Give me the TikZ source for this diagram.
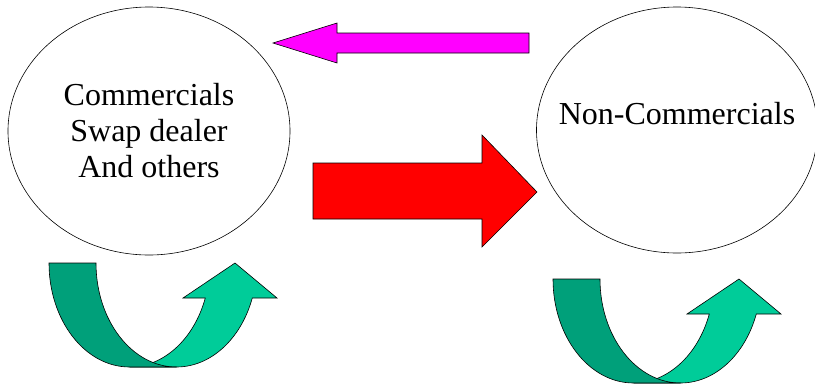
\documentclass[tikz,border=0pt]{standalone}
\usepackage{fontspec}
\setmainfont{Liberation Serif}
\usetikzlibrary{shapes.geometric}
\definecolor{pinkarrow}{RGB}{255,0,255}
\definecolor{redarrow}{RGB}{255,0,0}
\definecolor{backband}{RGB}{0,160,122}
\definecolor{frontband}{RGB}{0,204,153}

\begin{document}
\begin{tikzpicture}[x=1pt,y=1pt,line width=0.6pt,
	party/.style={draw,ellipse,inner sep=0pt,align=center,font=\fontsize{32}{36}\selectfont},
	block/.style={draw=black,line join=miter}]
	\useasboundingbox (0,0) rectangle (815,-384);
	\node[party,minimum width=282pt,minimum height=248pt] (com) at (149,-131) {Commercials\\Swap dealer\\And others};
	\node[party,minimum width=281pt,minimum height=246pt] (noncom) at (677,-130) {};
	\node[font=\fontsize{32}{36}\selectfont,inner sep=0pt] (noncomtext) at ([yshift=16.5pt]noncom.center) {Non-Commercials};
	% flat arrows
	\draw[block,fill=pinkarrow] (273,-43) -- (337,-23) -- (337,-33) -- (529,-33) -- (529,-53) -- (337,-53) -- (337,-63) -- cycle;
	\draw[block,fill=redarrow] (313,-163) -- (482,-163) -- (482,-135) -- (537,-192) -- (482,-247) -- (482,-219) -- (313,-219) -- cycle;
	% u-turn arrows under the ellipses
	\foreach \ox/\oy in {49/263,553/279}{
		\begin{scope}[shift={(\ox,-\oy)}]
			\draw[block,fill=frontband] (80.5,-104) arc (270:340.33:80.5 and 104) -- (134,-35) -- (186,0) -- (228,-35)
				-- (203.3,-35) arc (340.33:270:80.5 and 104) -- cycle;
			\draw[block,fill=backband] (0,0) arc (180:270:80.5 and 104) -- (127.5,-104) arc (270:180:80.5 and 104) -- cycle;
		\end{scope}
	}
\end{tikzpicture}
\end{document}
